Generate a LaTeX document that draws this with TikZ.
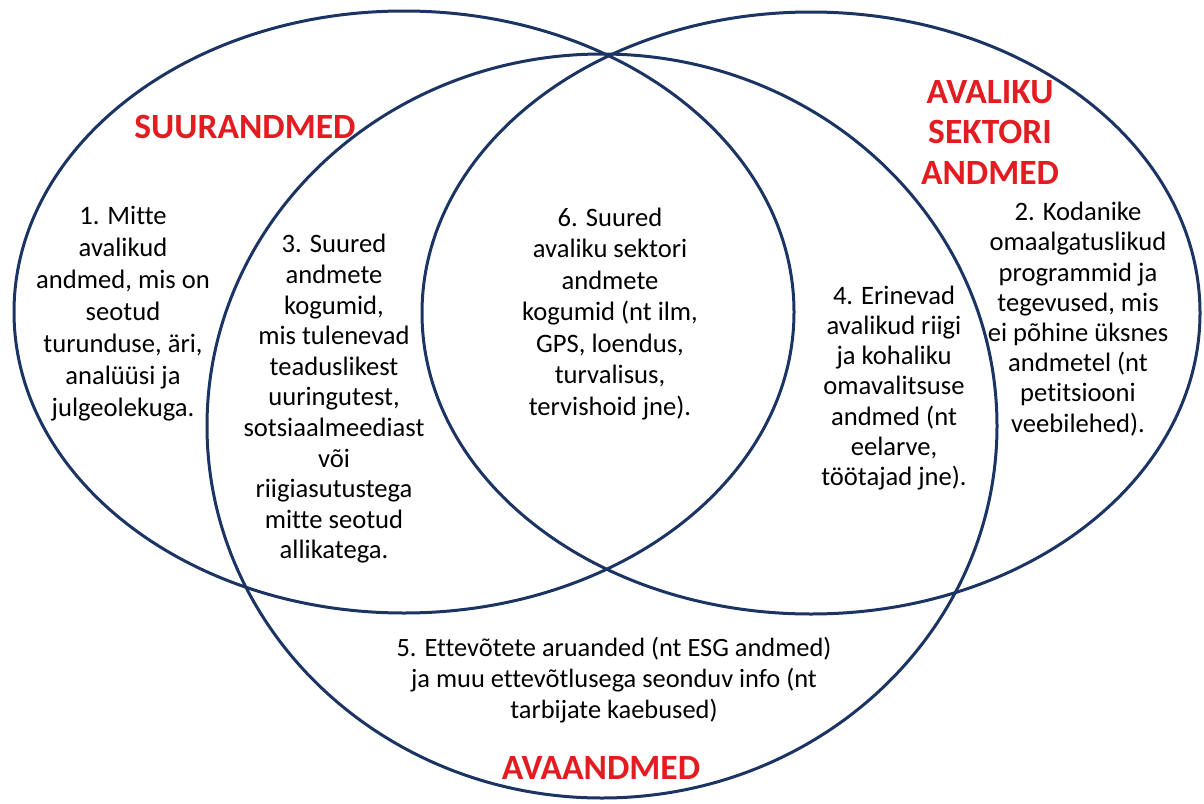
\documentclass[tikz,border=0pt]{standalone}
\usepackage{fontspec}
\setmainfont{Carlito}[Ligatures={NoCommon}]
\definecolor{navy}{RGB}{28,52,100}
\definecolor{lblred}{RGB}{226,28,32}
\tikzset{
  ring/.style={draw=navy, line width=3pt},
  body/.style={align=center, text=black, inner sep=0pt, font=\fontsize{26.6}{31}\selectfont},
  title/.style={align=center, text=lblred, inner sep=0pt, font=\fontsize{35.5}{40.5}\selectfont\bfseries},
}
\begin{document}
\begin{tikzpicture}[x=1pt,y=-1pt]
\fill[white] (0,0) rectangle (1204,803);
\useasboundingbox (0,0) rectangle (1204,803);
% ellipses
\draw[ring] (404,312) ellipse [x radius=390pt, y radius=301pt];
\draw[ring] (811,313) ellipse [x radius=389pt, y radius=301pt];
\draw[ring] (602,426) ellipse [x radius=395pt, y radius=372pt];
% titles
\node[title] (tA) at (245,127) {SUURANDMED};
\node[title] (tB) at (990,132) {AVALIKU\\SEKTORI\\ANDMED};
\node[title] (tC) at (601,768) {AVAANDMED};
% texts
\node[body, font=\fontsize{26.6}{32}\selectfont] (n1) at (123,314) {1. Mitte\\avalikud\\andmed, mis on\\seotud\\turunduse, äri,\\analüüsi ja\\julgeolekuga.};
\node[body, font=\fontsize{26.6}{30.6}\selectfont] (n3) at (334,399) {3. Suured\\andmete\\kogumid,\\mis tulenevad\\teaduslikest\\uuringutest,\\sotsiaalmeediast\\või\\riigiasutustega\\mitte seotud\\allikatega.};
\node[body, font=\fontsize{26.6}{31.5}\selectfont] (n6) at (610,314) {6. Suured\\avaliku sektori\\andmete\\kogumid (nt ilm,\\GPS, loendus,\\turvalisus,\\tervishoid jne).};
\node[body, font=\fontsize{26.6}{30.3}\selectfont] (n4) at (894,388) {4. Erinevad\\avalikud riigi\\ja kohaliku\\omavalitsuse\\andmed (nt\\eelarve,\\töötajad jne).};
\node[body, font=\fontsize{26.6}{30.2}\selectfont] (n2) at (1078,319) {2. Kodanike\\omaalgatuslikud\\programmid ja\\tegevused, mis\\ei põhine üksnes\\andmetel (nt\\petitsiooni\\veebilehed).};
\node[body, font=\fontsize{26.4}{31}\selectfont] (n5) at (614,680) {5. Ettevõtete aruanded (nt ESG andmed)\\ja muu ettevõtlusega seonduv info (nt\\tarbijate kaebused)};
\end{tikzpicture}
\end{document}
